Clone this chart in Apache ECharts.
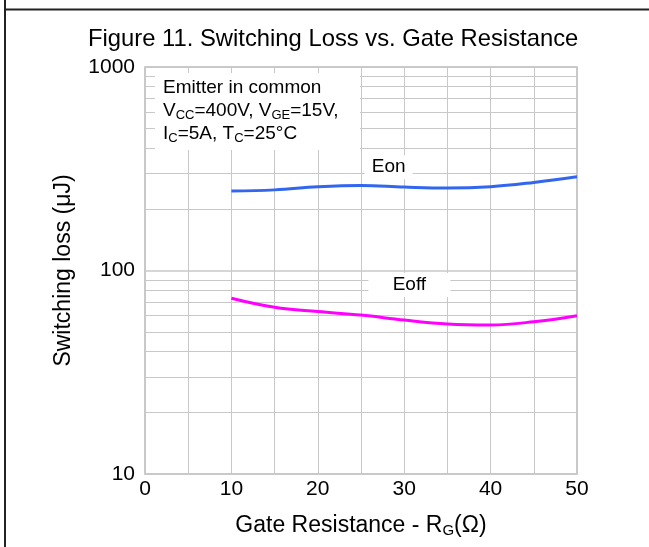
<!DOCTYPE html>
<html>
<head>
<meta charset="utf-8">
<script src="https://cdn.jsdelivr.net/npm/echarts@6/dist/echarts.min.js"></script>
<style>
html,body{margin:0;padding:0;background:#fff;}
#c{width:649px;height:547px;}
</style>
</head>
<body>
<div id="c"></div>
<script>
const xValues = [10, 15, 20, 25, 30, 35, 40, 45, 50];
const eonValues = [246, 249, 258, 262, 257, 254, 258, 271, 289];
const eoffValues = [73, 65.9, 62.8, 60.4, 57.1, 54.6, 54, 56, 60];
const xTicks = [0, 10, 20, 30, 40, 50];
const yTicks = [10, 100, 1000];
const minorGrid = [20, 30, 40, 50, 60, 70, 80, 90, 200, 300, 400, 500, 600, 700, 800, 900];
const labelEon = { text: 'Eon', x: 28.2, y: 322 };
const labelEoff = { text: 'Eoff', x: 30.6, y: 84.9 };

const FONT = '"Liberation Sans", Arial, sans-serif';
const GRID = '#c8c8c8';

const chart = echarts.init(document.getElementById('c'), null, { renderer: 'canvas' });
chart.setOption({
  backgroundColor: '#fff',
  animation: false,
  title: {
    text: 'Figure 11. Switching Loss vs. Gate Resistance',
    left: 83, top: 22,
    textStyle: { fontFamily: FONT, fontSize: 23.8, fontWeight: 'normal', color: '#000' }
  },
  grid: { left: 145, right: 72, top: 67, bottom: 73, show: true, borderColor: '#b8b8b8', borderWidth: 1.5 },
  xAxis: {
    type: 'value', min: 0, max: 50, interval: 10,
    name: '{n|Gate Resistance - R}{s|G}{n|(Ω)}',
    nameLocation: 'middle', nameGap: 39,
    nameTextStyle: {
      fontFamily: FONT, fontSize: 23, color: '#000',
      rich: {
        n: { fontFamily: FONT, fontSize: 23, lineHeight: 25, color: '#000' },
        s: { fontFamily: FONT, fontSize: 15, lineHeight: 15, color: '#000', verticalAlign: 'bottom' }
      }
    },
    axisLine: { show: false }, axisTick: { show: false },
    axisLabel: { fontFamily: FONT, fontSize: 21, color: '#000', margin: 5,
      formatter: v => xTicks.includes(v) ? String(v) : '' },
    splitLine: { show: true, lineStyle: { color: GRID, width: 1 } },
    minorTick: { show: false, splitNumber: 2 },
    minorSplitLine: { show: true, lineStyle: { color: GRID, width: 1 } }
  },
  yAxis: {
    type: 'log', logBase: 10, min: 10, max: 1000,
    name: 'Switching loss (μJ)', nameLocation: 'middle', nameGap: 70,
    nameTextStyle: { fontFamily: FONT, fontSize: 23, color: '#000' },
    axisLine: { show: false }, axisTick: { show: false },
    axisLabel: { fontFamily: FONT, fontSize: 21, color: '#000', margin: 10,
      formatter: v => yTicks.includes(Math.round(v)) ? String(Math.round(v)) : '' },
    splitLine: { show: true, lineStyle: { color: GRID, width: 1.5 } }
  },
  series: [
    {
      type: 'line', name: 'grid', data: [], silent: true, z: 1,
      markLine: {
        silent: true, symbol: ['none', 'none'], animation: false,
        label: { show: false },
        lineStyle: { color: GRID, width: 1, type: 'solid' },
        data: minorGrid.map(v => ({ yAxis: v }))
      },
      markPoint: {
        silent: true, animation: false,
        data: [
          { coord: [labelEon.x, labelEon.y], symbol: 'rect', symbolSize: [48, 24],
            itemStyle: { color: '#fff' },
            label: { show: true, formatter: labelEon.text, fontFamily: FONT, fontSize: 19, color: '#000' } },
          { coord: [labelEoff.x, labelEoff.y], symbol: 'rect', symbolSize: [82, 24],
            itemStyle: { color: '#fff' },
            label: { show: true, formatter: labelEoff.text, fontFamily: FONT, fontSize: 19, color: '#000' } }
        ]
      }
    },
    {
      type: 'line', name: 'Eon', smooth: 0.4, showSymbol: false, z: 5,
      lineStyle: { color: '#3366ee', width: 3 },
      data: xValues.map((x, i) => [x, eonValues[i]])
    },
    {
      type: 'line', name: 'Eoff', smooth: 0.4, showSymbol: false, z: 5,
      lineStyle: { color: '#ff00ff', width: 3 },
      data: xValues.map((x, i) => [x, eoffValues[i]])
    }
  ],
  graphic: {
    elements: [
      { type: 'line', z: 100, shape: { x1: 5, y1: 0, x2: 5, y2: 547 }, style: { stroke: '#222', lineWidth: 2 } },
      { type: 'line', z: 100, shape: { x1: 5, y1: 9.5, x2: 649, y2: 9.5 }, style: { stroke: '#222', lineWidth: 2 } },
      { type: 'rect', z: 100, left: 155, top: 73, shape: { x: 0, y: 0, width: 205, height: 77 }, style: { fill: '#fff' } },
      {
        type: 'text', z: 101, left: 163, top: 78,
        style: {
          text: '{n|Emitter in common}\n{n|V}{s|CC}{n|=400V, V}{s|GE}{n|=15V,}\n{n|I}{s|C}{n|=5A, T}{s|C}{n|=25°C}',
          fill: '#000', fontFamily: FONT, fontSize: 19,
          rich: {
            n: { fontFamily: FONT, fontSize: 19, lineHeight: 23, fill: '#000' },
            s: { fontFamily: FONT, fontSize: 13, lineHeight: 14, fill: '#000', verticalAlign: 'bottom' }
          }
        }
      }
    ]
  }
});
</script>
</body>
</html>
